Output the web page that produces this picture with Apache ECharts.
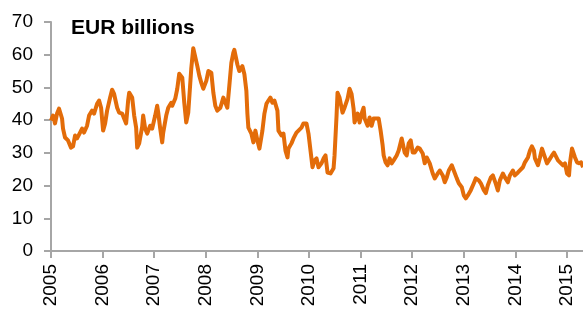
<!DOCTYPE html>
<html>
<head>
<meta charset="utf-8">
<script src="https://cdn.jsdelivr.net/npm/echarts@6/dist/echarts.min.js"></script>
<style>
  html, body { margin: 0; padding: 0; background: #fff; }
  #main { width: 583px; height: 313px; }
</style>
</head>
<body>
<div id="main"></div>
<script>
  // decimal year of each reading
  var dates = [
    2005.000, 2005.039, 2005.078, 2005.117, 2005.155, 2005.214, 2005.233, 2005.272, 2005.330, 2005.388,
    2005.427, 2005.466, 2005.505, 2005.563, 2005.602, 2005.641, 2005.699, 2005.738, 2005.796, 2005.835,
    2005.893, 2005.932, 2005.971, 2006.010, 2006.049, 2006.087, 2006.146, 2006.184, 2006.223, 2006.282,
    2006.320, 2006.379, 2006.417, 2006.456, 2006.495, 2006.515, 2006.573, 2006.612, 2006.650, 2006.670,
    2006.709, 2006.767, 2006.786, 2006.825, 2006.864, 2006.922, 2006.961, 2007.019, 2007.058, 2007.078,
    2007.117, 2007.155, 2007.175, 2007.233, 2007.272, 2007.330, 2007.350, 2007.408, 2007.447, 2007.485,
    2007.544, 2007.583, 2007.621, 2007.660, 2007.718, 2007.757, 2007.777, 2007.835, 2007.874, 2007.913,
    2007.951, 2008.010, 2008.049, 2008.107, 2008.146, 2008.184, 2008.223, 2008.282, 2008.340, 2008.379,
    2008.417, 2008.456, 2008.495, 2008.534, 2008.553, 2008.612, 2008.650, 2008.709, 2008.748, 2008.786,
    2008.806, 2008.825, 2008.883, 2008.922, 2008.961, 2009.000, 2009.039, 2009.097, 2009.136, 2009.175,
    2009.214, 2009.252, 2009.291, 2009.330, 2009.388, 2009.408, 2009.466, 2009.505, 2009.544, 2009.583,
    2009.602, 2009.660, 2009.699, 2009.757, 2009.796, 2009.854, 2009.893, 2009.951, 2009.990, 2010.029,
    2010.068, 2010.107, 2010.146, 2010.184, 2010.243, 2010.282, 2010.320, 2010.359, 2010.417, 2010.476,
    2010.495, 2010.534, 2010.553, 2010.592, 2010.650, 2010.689, 2010.748, 2010.786, 2010.825, 2010.864,
    2010.883, 2010.942, 2010.981, 2011.019, 2011.058, 2011.078, 2011.136, 2011.175, 2011.214, 2011.252,
    2011.311, 2011.350, 2011.388, 2011.427, 2011.447, 2011.485, 2011.524, 2011.563, 2011.602, 2011.641,
    2011.699, 2011.738, 2011.796, 2011.816, 2011.854, 2011.893, 2011.932, 2011.971, 2012.010, 2012.049,
    2012.107, 2012.146, 2012.204, 2012.243, 2012.282, 2012.320, 2012.340, 2012.398, 2012.437, 2012.495,
    2012.534, 2012.592, 2012.631, 2012.670, 2012.709, 2012.767, 2012.806, 2012.864, 2012.903, 2012.961,
    2013.000, 2013.039, 2013.078, 2013.136, 2013.194, 2013.233, 2013.291, 2013.330, 2013.388, 2013.427,
    2013.466, 2013.524, 2013.563, 2013.621, 2013.660, 2013.699, 2013.757, 2013.796, 2013.854, 2013.893,
    2013.951, 2013.990, 2014.049, 2014.087, 2014.146, 2014.184, 2014.243, 2014.282, 2014.320, 2014.359,
    2014.379, 2014.437, 2014.476, 2014.515, 2014.553, 2014.573, 2014.612, 2014.650, 2014.709, 2014.748,
    2014.786, 2014.825, 2014.883, 2014.922, 2014.961, 2015.000, 2015.039, 2015.058, 2015.097, 2015.117,
    2015.155, 2015.194, 2015.233, 2015.272, 2015.311
  ];

  // EUR billions
  var values = [
    39.9, 41.4, 39.0, 42.0, 43.5, 40.5, 37.4, 34.7, 33.8, 31.6,
    32.0, 35.3, 34.4, 36.2, 37.4, 36.2, 38.3, 41.4, 42.9, 42.0,
    45.0, 46.0, 43.8, 36.8, 39.0, 42.9, 46.9, 49.3, 48.0, 43.8,
    42.3, 42.0, 40.5, 39.0, 46.0, 48.4, 46.9, 41.4, 37.7, 31.6,
    32.9, 38.0, 41.4, 37.4, 35.9, 38.3, 37.4, 41.4, 44.4, 42.3,
    37.4, 33.2, 36.2, 41.4, 43.8, 45.3, 44.4, 46.6, 49.6, 54.2,
    53.0, 45.3, 39.3, 42.3, 55.7, 62.0, 61.8, 56.6, 53.6, 51.4,
    49.6, 52.0, 55.0, 54.5, 48.4, 44.4, 42.9, 43.8, 46.9, 45.3,
    43.8, 50.5, 57.5, 60.6, 61.5, 57.0, 55.0, 56.5, 54.0, 49.0,
    42.0, 37.7, 35.9, 33.2, 36.8, 33.8, 31.3, 36.8, 42.0, 45.0,
    46.0, 46.9, 45.3, 46.0, 42.9, 36.8, 35.3, 35.9, 30.7, 28.6,
    31.3, 32.9, 34.4, 36.2, 36.8, 37.7, 39.0, 39.0, 35.9, 30.7,
    25.6, 27.7, 28.3, 25.6, 26.8, 28.3, 29.2, 24.0, 23.7, 25.3,
    29.2, 41.4, 48.4, 46.9, 42.3, 43.8, 46.6, 49.6, 48.0, 43.5,
    39.3, 42.0, 39.3, 42.0, 43.8, 40.5, 38.3, 40.8, 38.3, 40.5,
    40.5, 40.5, 36.8, 32.3, 29.2, 27.1, 26.2, 28.3, 26.8, 27.7,
    29.2, 30.7, 34.4, 34.7, 30.1, 29.2, 32.9, 33.8, 30.1, 30.1,
    31.6, 31.3, 29.8, 26.8, 28.6, 29.2, 26.8, 23.7, 22.2, 23.7,
    24.6, 23.1, 21.0, 22.5, 24.6, 26.2, 24.6, 22.2, 20.7, 19.5,
    17.0, 16.1, 17.0, 18.6, 20.7, 22.2, 21.6, 20.7, 18.6, 17.7,
    20.1, 22.5, 23.1, 20.5, 18.5, 21.6, 23.7, 22.5, 21.0, 23.1,
    24.6, 23.1, 24.0, 23.7, 25.6, 27.1, 28.6, 30.7, 32.0, 30.7,
    28.3, 26.2, 28.6, 31.3, 31.0, 28.6, 26.8, 27.7, 29.2, 30.1,
    29.8, 27.7, 26.8, 26.2, 26.8, 23.7, 23.1, 27.0, 31.3, 31.6,
    28.6, 27.1, 26.8, 27.1, 25.6
  ];

  var yTicks = [0, 10, 20, 30, 40, 50, 60, 70];
  var titleText = 'EUR billions';

  var myChart = echarts.init(document.getElementById('main'));

  myChart.setOption({
    animation: false,
    title: {
      text: titleText,
      left: 71,
      top: 18,
      padding: 0,
      textStyle: {
        fontFamily: 'Liberation Sans',
        fontSize: 21,
        fontWeight: 'bold',
        color: '#000'
      }
    },
    grid: {
      left: 51,
      right: 0,
      top: 22,
      bottom: 62
    },
    xAxis: {
      type: 'value',
      min: 2005,
      max: 2015.31,
      interval: 1,
      splitLine: { show: false },
      axisLine: { lineStyle: { color: '#A6A6A6', width: 2 } },
      axisTick: { length: 7, lineStyle: { color: '#A6A6A6', width: 2 } },
      axisLabel: {
        rotate: 90,
        margin: 13,
        fontFamily: 'Liberation Sans',
        fontSize: 19,
        color: '#000',
        formatter: function (v) { return String(Math.round(v)); }
      }
    },
    yAxis: {
      type: 'value',
      min: yTicks[0],
      max: yTicks[yTicks.length - 1],
      interval: 10,
      splitLine: { show: false },
      axisLine: { show: true, lineStyle: { color: '#A6A6A6', width: 2 } },
      axisTick: { show: true, length: 7, lineStyle: { color: '#A6A6A6', width: 2 } },
      axisLabel: {
        margin: 18,
        fontFamily: 'Liberation Sans',
        fontSize: 19,
        color: '#000'
      }
    },
    series: [{
      type: 'line',
      data: dates.map(function (d, i) { return [d, values[i]]; }),
      showSymbol: false,
      clip: false,
      lineStyle: { color: '#E36C09', width: 4, join: 'round' }
    }]
  });
</script>
</body>
</html>
